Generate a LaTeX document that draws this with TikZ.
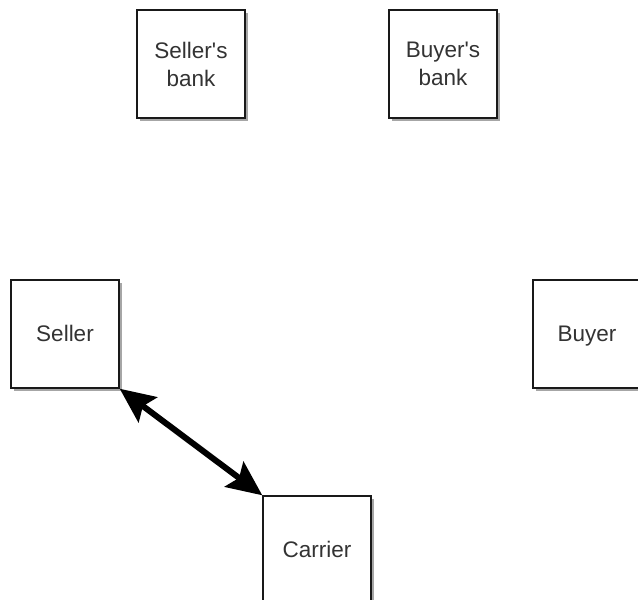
\documentclass[tikz,border=0pt]{standalone}
\usepackage{fontspec}
\setmainfont{Liberation Sans}
\usetikzlibrary{arrows.meta,shadows}
\begin{document}
\begin{tikzpicture}[x=1pt,y=-1pt,
  box/.style={draw=black!90, line width=1.4pt, fill=white, minimum width=108pt, minimum height=108pt,
    inner sep=0pt, align=center, text=black!80,
    font=\fontsize{22.5}{28}\selectfont,
    drop shadow={shadow xshift=3pt, shadow yshift=-3pt, fill=black, opacity=0.35}},
  oneline/.style={text height=20pt, text depth=5pt},
  link/.style={line width=6pt, {Stealth[length=35pt,width=31pt,inset=6pt]}-{Stealth[length=35pt,width=31pt,inset=6pt]}}]
\useasboundingbox (0,0) rectangle (638,600);
\node[box] (sbank) at (191,64) {Seller\textquotesingle s\\bank};
\node[box] (bbank) at (443,64) {Buyer\textquotesingle s\\bank};
\node[box,oneline] (seller) at (65,334) {Seller};
\node[box,oneline] (buyer) at (587,334) {Buyer};
\node[box,oneline] (carrier) at (317,550) {Carrier};
\draw[link] (seller.south east) -- (carrier.north west);
\end{tikzpicture}
\end{document}
